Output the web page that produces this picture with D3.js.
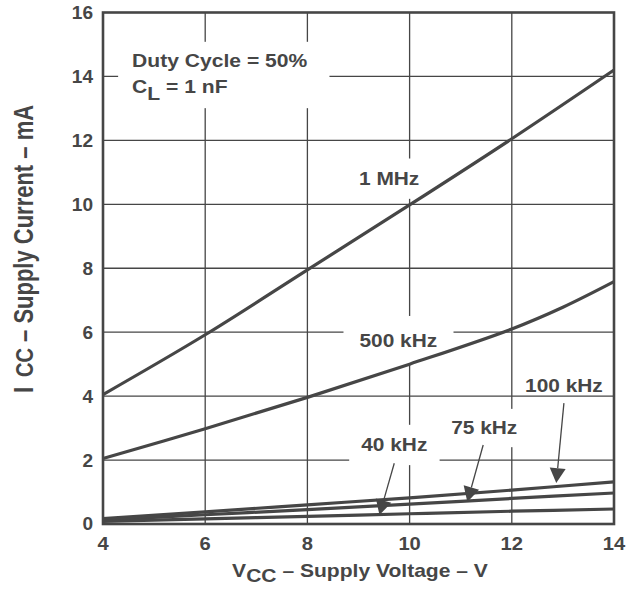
<!DOCTYPE html>
<html><head><meta charset="utf-8">
<script src="https://cdn.jsdelivr.net/npm/d3@7"></script>
<style>
body{margin:0;background:#fff;}
text{font-family:"Liberation Sans",Arial,Helvetica,sans-serif;font-weight:bold;fill:#464646;}
</style></head>
<body><svg id="c" width="628" height="594"></svg>
<script>
const xTicks = [4, 6, 8, 10, 12, 14];
const yTicks = [0, 2, 4, 6, 8, 10, 12, 14, 16];
const seriesNames = ["1 MHz", "500 kHz", "100 kHz", "75 kHz", "40 kHz"];
const vcc1MHz = [4, 6, 8, 10, 12, 14];
const icc1MHz = [4.05, 5.92, 7.95, 9.98, 12.05, 14.2];
const vcc500k = [4, 6, 8, 10, 12, 13, 14];
const icc500k = [2.05, 2.98, 3.96, 5.0, 6.1, 6.78, 7.58];
const vccLow = [4, 6, 8, 10, 12, 14];
const icc100k = [0.17, 0.38, 0.6, 0.82, 1.06, 1.32];
const icc75k = [0.13, 0.29, 0.45, 0.62, 0.8, 0.97];
const icc40k = [0.08, 0.16, 0.24, 0.32, 0.4, 0.47];

// label anchors (data units)
const labels = [
  {t:seriesNames[0], x:9.6, y:10.6, box:[8,10]},
  {t:seriesNames[1], x:9.78, y:5.55, box:[16,14]},
  {t:seriesNames[2], x:13.02, y:4.12, box:[0,0]},
  {t:seriesNames[3], x:11.46, y:2.8, box:[8,9]},
  {t:seriesNames[4], x:9.7, y:2.27, box:[12,10]}
];
const arrows = [
  {from:[13.02, 3.78], to:[12.87, 1.28]},
  {from:[11.44, 2.47], to:[11.13, 0.69]},
  {from:[9.7, 1.9], to:[9.41, 0.28]}
];

const svg = d3.select("#c");
const x = d3.scaleLinear().domain([4, 14]).range([103, 614]);
const y = d3.scaleLinear().domain([0, 16]).range([524, 12.5]);
const col = "#464646";
const SX = 1.16; // horizontal stretch of the reference lettering

function stretch(sel, ax, ay, s) {
  sel.attr("transform", `translate(${ax},${ay}) scale(${s},1) translate(${-ax},${-ay})`);
}

// grid
const g = svg.append("g");
g.selectAll(".vg").data(xTicks.slice(1, -1)).join("line")
  .attr("x1", d => x(d)).attr("x2", d => x(d)).attr("y1", y(0)).attr("y2", y(16))
  .attr("stroke", col).attr("stroke-width", 1.3);
g.selectAll(".hg").data(yTicks.slice(1, -1)).join("line")
  .attr("y1", d => y(d)).attr("y2", d => y(d)).attr("x1", x(4)).attr("x2", x(14))
  .attr("stroke", col).attr("stroke-width", 1.3);

const boxG = svg.append("g");
const labG = svg.append("g");

// info label
const ix = x(4.57);
const info = labG.append("text").attr("x", ix).attr("y", y(14.3)).attr("font-size", 19);
info.text("Duty Cycle = 50%");
stretch(info, ix, y(14.3), 1.11);
const info2 = labG.append("text").attr("x", ix).attr("y", y(13.47)).attr("font-size", 19);
info2.append("tspan").text("C");
info2.append("tspan").attr("dy", 7).text("L");
info2.append("tspan").attr("dy", -7).text(" = 1 nF");
stretch(info2, ix, y(13.47), 1.11);

labels.forEach(l => {
  const t = labG.append("text").attr("x", x(l.x)).attr("y", y(l.y)).attr("text-anchor", "middle")
    .attr("font-size", 18).text(l.t);
  stretch(t, x(l.x), y(l.y), SX);
  l.node = t.node();
});

function bboxScreen(node) {
  const b = node.getBBox();
  const m = node.transform.baseVal.consolidate();
  const sx = m ? m.matrix.a : 1, tx = m ? m.matrix.e : 0;
  return {x: b.x * sx + tx, y: b.y, width: b.width * sx, height: b.height};
}
{
  const b1 = bboxScreen(info.node()), b2 = bboxScreen(info2.node());
  boxG.append("rect").attr("x", b1.x - 14).attr("y", b1.y - 8)
    .attr("width", Math.max(b1.width, b2.width) + 36).attr("height", (b2.y + b2.height) - b1.y + 12).attr("fill", "#fff");
}
labels.forEach(l => {
  if (l.box[0] === 0) return;
  const b = bboxScreen(l.node);
  boxG.append("rect").attr("x", b.x - l.box[0]).attr("y", b.y - l.box[1])
    .attr("width", b.width + 2 * l.box[0]).attr("height", b.height + 2 * l.box[1]).attr("fill", "#fff");
});

// curves
const line = d3.line().x(d => x(d[0])).y(d => y(d[1])).curve(d3.curveCatmullRom.alpha(0.5));
const curves = [
  d3.zip(vcc1MHz, icc1MHz), d3.zip(vcc500k, icc500k),
  d3.zip(vccLow, icc100k), d3.zip(vccLow, icc75k), d3.zip(vccLow, icc40k)
];
svg.append("g").selectAll("path").data(curves).join("path")
  .attr("d", line).attr("fill", "none").attr("stroke", col).attr("stroke-width", 3.2);

// arrows
const ag = svg.append("g");
arrows.forEach(a => {
  const x1 = x(a.from[0]), y1 = y(a.from[1]), x2 = x(a.to[0]), y2 = y(a.to[1]);
  const ang = Math.atan2(y2 - y1, x2 - x1);
  const L = 15, W = 8;
  const bx = x2 - L * Math.cos(ang), by = y2 - L * Math.sin(ang);
  ag.append("line").attr("x1", x1).attr("y1", y1).attr("x2", bx).attr("y2", by)
    .attr("stroke", col).attr("stroke-width", 1.3);
  const nx = -Math.sin(ang), ny = Math.cos(ang);
  ag.append("path").attr("d", `M${x2},${y2}L${bx + nx * W},${by + ny * W}L${bx - nx * W},${by - ny * W}Z`)
    .attr("fill", col);
});

// frame
svg.append("rect").attr("x", x(4)).attr("y", y(16)).attr("width", x(14) - x(4)).attr("height", y(0) - y(16))
  .attr("fill", "none").attr("stroke", col).attr("stroke-width", 2.6);

// tick labels
svg.append("g").selectAll("text").data(yTicks).join("text")
  .attr("x", 93).attr("y", d => y(d)).attr("dy", "0.36em").attr("text-anchor", "end")
  .attr("font-size", 18).text(d => d)
  .attr("transform", d => `translate(93,0) scale(1.06,1) translate(-93,0)`);
svg.append("g").selectAll("text").data(xTicks).join("text")
  .attr("x", d => x(d)).attr("y", 550).attr("text-anchor", "middle")
  .attr("font-size", 18).text(d => d)
  .attr("transform", d => `translate(${x(d)},0) scale(1.12,1) translate(${-x(d)},0)`);

// axis titles
const xt = svg.append("text").attr("x", 360).attr("y", 577).attr("text-anchor", "middle").attr("font-size", 18);
xt.append("tspan").text("V");
xt.append("tspan").attr("dy", 5).text("CC");
xt.append("tspan").attr("dy", -5).text(" – Supply Voltage – V");
stretch(xt, 360, 577, 1.17);

const yt = svg.append("text").attr("transform", "translate(33,249) scale(1.24,1) rotate(-90)")
  .attr("text-anchor", "middle").attr("font-size", 22);
yt.append("tspan").text("I");
yt.append("tspan").attr("dx", 10).attr("font-size", 20).text("CC");
yt.append("tspan").text("  – Supply Current – mA");
</script></body></html>
